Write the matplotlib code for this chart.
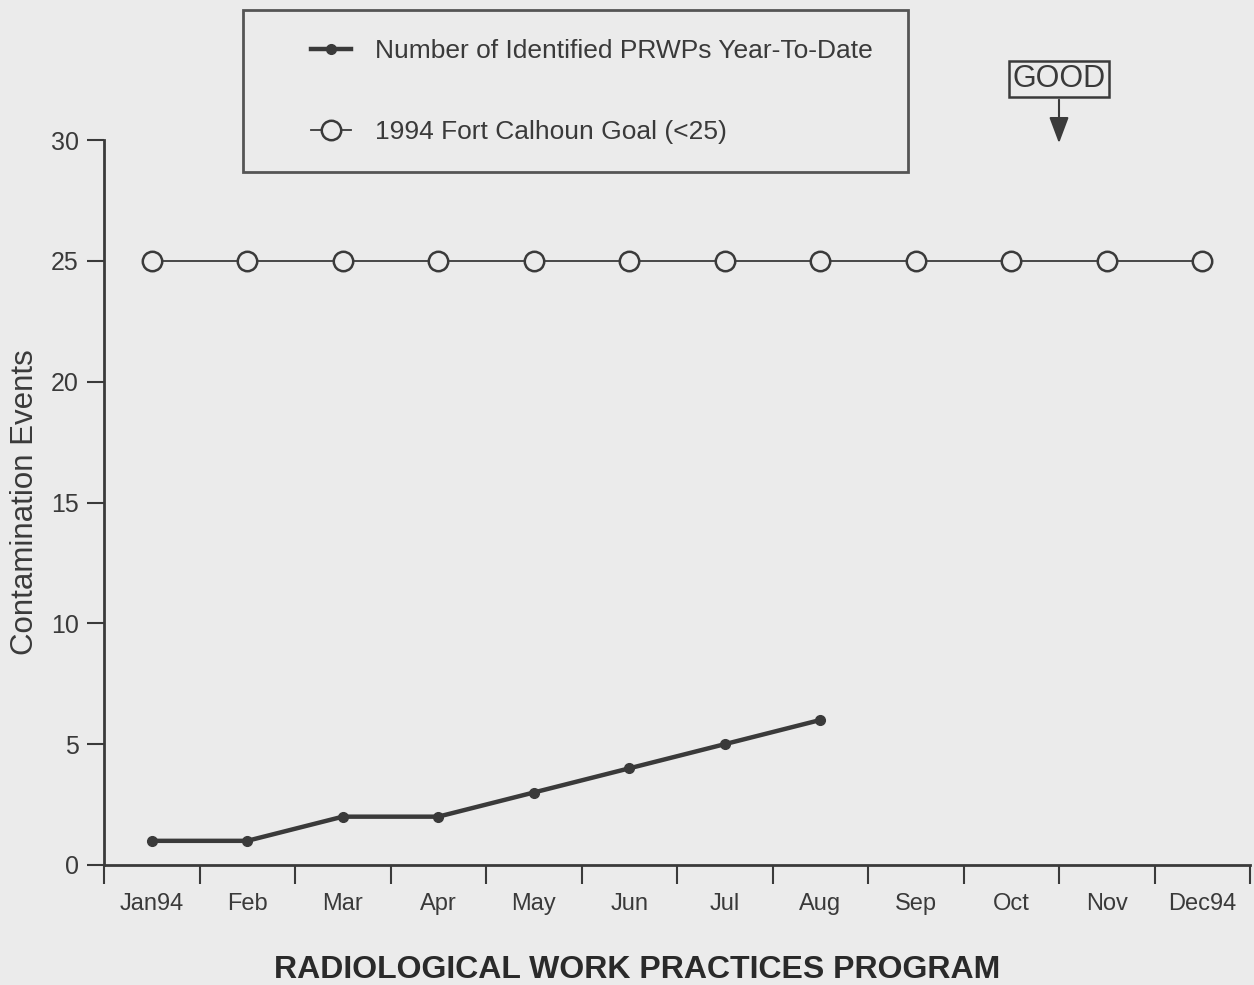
import matplotlib
matplotlib.use("Agg")
import matplotlib.pyplot as plt
from matplotlib.patches import Rectangle
from matplotlib.lines import Line2D

months = ["Jan94", "Feb", "Mar", "Apr", "May", "Jun", "Jul", "Aug", "Sep", "Oct", "Nov", "Dec94"]
prwp_ytd = [1, 1, 2, 2, 3, 4, 5, 6]          # Jan..Aug
goal = [25] * 12
yticks = [0, 5, 10, 15, 20, 25, 30]

plt.rcParams["font.family"] = ["Liberation Sans", "DejaVu Sans"]
ink = "#3a3a3a"
bg = "#ebebeb"

fig = plt.figure(figsize=(12.54, 9.85), dpi=100, facecolor=bg)
ax = fig.add_axes([104 / 1254, 1 - 865 / 985, 1146 / 1254, 725 / 985])
ax.set_facecolor(bg)

x_goal = list(range(len(goal)))
x_prwp = list(range(len(prwp_ytd)))

ax.plot(x_goal, goal, color=ink, lw=1.3, marker="o", ms=14,
        mfc=bg, mec=ink, mew=1.8, clip_on=False, zorder=3)
ax.plot(x_prwp, prwp_ytd, color=ink, lw=3.2, marker="o", ms=7,
        mfc=ink, mec=ink, clip_on=False, zorder=4)

ax.set_xlim(-0.5, 11.5)
ax.set_ylim(0, 30)

# category boundaries as tick marks, month names in between
ax.set_xticks([i - 0.5 for i in range(len(months) + 1)])
ax.set_xticklabels([])
ax.set_xticks(x_goal, minor=True)
ax.set_xticklabels(months, minor=True)
ax.tick_params(axis="x", which="major", length=14, width=1.5, color=ink, direction="out")
ax.tick_params(axis="x", which="minor", length=0, pad=20, labelsize=17, labelcolor=ink)

ax.set_yticks(yticks)
ax.tick_params(axis="y", length=12, width=1.5, color=ink, pad=6, labelsize=18, labelcolor=ink)

for s in ["top", "right"]:
    ax.spines[s].set_visible(False)
for s in ["left", "bottom"]:
    ax.spines[s].set_color(ink)
    ax.spines[s].set_linewidth(2)

ax.set_ylabel("Contamination Events", fontsize=22.5, color=ink, labelpad=8)
fig.text(0.508, 1 - 970 / 985, "RADIOLOGICAL WORK PRACTICES PROGRAM",
         ha="center", va="center", fontsize=23, fontweight="bold", color="#2a2a2a")

# legend box
fig.patches.append(Rectangle((243 / 1254, 1 - 172 / 985), 665 / 1254, 162 / 985,
                             transform=fig.transFigure, fill=False, ec="#555555", lw=2))
h1 = Line2D([], [], color=ink, lw=3.2, marker="o", ms=7, mfc=ink, mec=ink)
h2 = Line2D([], [], color=ink, lw=1.3, marker="o", ms=14, mfc=bg, mec=ink, mew=1.8)
fig.legend([h1, h2], ["Number of Identified PRWPs Year-To-Date", "1994 Fort Calhoun Goal (<25)"],
           loc="upper left", bbox_to_anchor=(298 / 1254, 1 - 26 / 985),
           frameon=False, fontsize=19, handlelength=1.5, handletextpad=0.9,
           labelspacing=2.15, borderpad=0, labelcolor=ink)

# GOOD arrow
fig.text(1059 / 1254, 1 - 79 / 985, "GOOD", ha="center", va="center", fontsize=22, color=ink,
         bbox=dict(boxstyle="square,pad=0.1", fc=bg, ec=ink, lw=1.8))
ax.annotate("", xy=(1059 / 1254, 1 - 146 / 985), xytext=(1059 / 1254, 1 - 97 / 985),
            xycoords="figure fraction",
            arrowprops=dict(arrowstyle="-|>,head_length=1.6,head_width=0.6",
                            color=ink, lw=1.5))

fig.savefig("out.png", dpi=100, facecolor=bg)
